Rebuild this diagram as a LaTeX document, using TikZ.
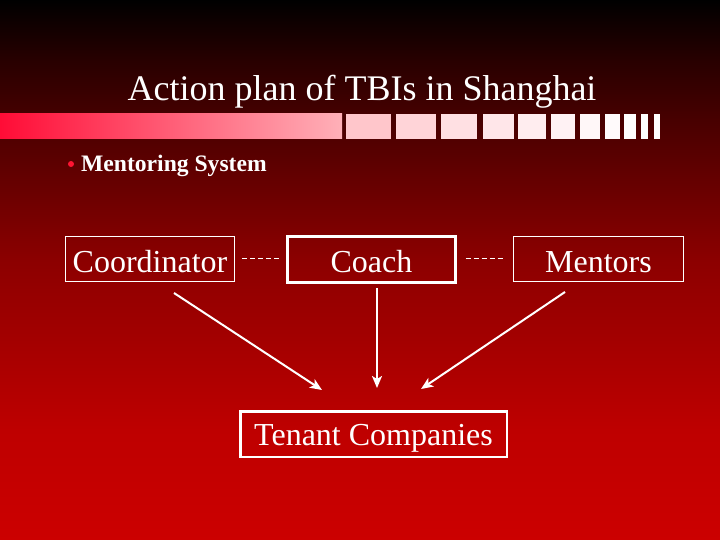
\documentclass[tikz,border=0pt]{standalone}
\usepackage{fontspec}
\setmainfont{Liberation Serif}
\usetikzlibrary{arrows.meta}
\definecolor{bg0}{RGB}{0,0,0}
\definecolor{bg1}{RGB}{40,0,0}
\definecolor{bg2}{RGB}{72,0,0}
\definecolor{bg3}{RGB}{140,0,0}
\definecolor{bg4}{RGB}{190,0,0}
\definecolor{bg5}{RGB}{204,0,0}
\definecolor{barL}{RGB}{255,12,54}
\definecolor{barR}{RGB}{255,176,184}
\definecolor{bulletred}{RGB}{255,20,50}
\tikzset{
  box/.style={draw=white, rectangle, inner sep=0pt, text=white,
    font=\fontsize{32}{36}\selectfont, text height=29pt, text depth=3pt},
  thinbox/.style={box, line width=1pt},
  thickbox/.style={box, line width=3pt},
  dashlink/.style={draw=white, line width=1pt, dash pattern=on 5pt off 3pt},
  arrowlink/.style={draw=white, line width=2pt, -{Stealth[length=12pt,width=10pt,inset=3pt]}},
}
\begin{document}
\begin{tikzpicture}[x=1pt,y=-1pt]
\useasboundingbox (0,0) rectangle (720,540);
% background gradient
\shade[top color=bg0, bottom color=bg1] (0,0) rectangle (720,60.5);
\shade[top color=bg1, bottom color=bg2] (0,60) rectangle (720,120.5);
\shade[top color=bg2, bottom color=bg3] (0,120) rectangle (720,260.5);
\shade[top color=bg3, bottom color=bg4] (0,260) rectangle (720,430.5);
\shade[top color=bg4, bottom color=bg5] (0,430) rectangle (720,540);
% decorative bar
\shade[left color=barL, right color=barR] (0,114) rectangle (342,139);
\foreach \a/\b/\c in {346/391/{255,198,203},396/436/{255,212,216},441/477/{255,224,227},
  483/514/{255,230,233},518/546/{255,237,239},551/575/{255,242,244},580/600/{255,247,248},
  605/620/{255,250,251},624/636/{255,255,255},641/648/{255,255,255},654/660/{255,255,255}}{
  \definecolor{sq}{RGB}{\c}
  \fill[sq] (\a,114) rectangle (\b,139);
}
% title
\node[text=white, font=\fontsize{36}{40}\selectfont, anchor=base, inner sep=0pt] (title) at (362,101) {Action plan of TBIs in Shanghai};
% bullet
\fill[bulletred] (71,164) circle (3);
\node[text=white, font=\bfseries\fontsize{23.6}{28}\selectfont, anchor=base west, inner sep=0pt] (ms) at (81,172) {Mentoring System};
% boxes
\node[thinbox, minimum width=169pt, minimum height=45pt] (coord) at (150,259) {Coordinator};
\node[thickbox, minimum width=168pt, minimum height=46pt, text height=28pt, text depth=3pt] (coach) at (371.5,259.5) {Coach};
\node[thinbox, minimum width=170pt, minimum height=45pt] (mentors) at (598.5,259) {Mentors};
\node[box, line width=2.5pt, minimum width=266.5pt, minimum height=45.5pt, text height=26pt, text depth=4pt] (tenant) at (373.5,434) {Tenant Companies};
% dashed links
\coordinate (dy) at (0,258);
\draw[dashlink, shorten <=7pt, shorten >=7.5pt] (coord.east |- dy) -- (coach.west |- dy);
\draw[dashlink, shorten <=8.5pt, shorten >=10pt] (coach.east |- dy) -- (mentors.west |- dy);
% arrows
\coordinate (a1s) at (174,293);
\coordinate (a1e) at (322,390);
\coordinate (a2s) at (377,288);
\coordinate (a2e) at (377,388);
\coordinate (a3s) at (565,292);
\coordinate (a3e) at (421,389);
\draw[arrowlink] (a1s) -- (a1e);
\draw[arrowlink] (a2s) -- (a2e);
\draw[arrowlink] (a3s) -- (a3e);
\end{tikzpicture}
\end{document}
